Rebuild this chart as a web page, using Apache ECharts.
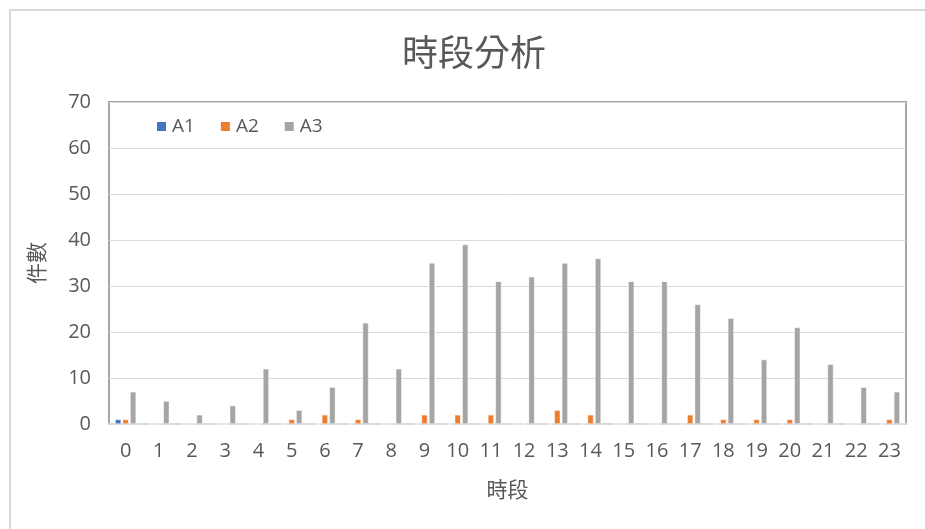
<!DOCTYPE html>
<html><head><meta charset="utf-8">
<script src="https://cdn.jsdelivr.net/npm/echarts@6/dist/echarts.min.js"></script>
<style>html,body{margin:0;padding:0;background:#fff}#c{width:925px;height:529px}</style>
</head><body><div id="c"></div>
<script>
const categories = ['0','1','2','3','4','5','6','7','8','9','10','11','12','13','14','15','16','17','18','19','20','21','22','23'];
const seriesNames = ['A1','A2','A3'];
const a1 = [1,0,0,0,0,0,0,0,0,0,0,0,0,0,0,0,0,0,0,0,0,0,0,0];
const a2 = [1,0,0,0,0,1,2,1,0,2,2,2,0,3,2,0,0,2,1,1,1,0,0,1];
const a3 = [7,5,2,4,12,3,8,22,12,35,39,31,32,35,36,31,31,26,23,14,21,13,8,7];
const yTicks = [0,10,20,30,40,50,60,70];
const colors = ['#4472c4','#ed7d31','#a5a5a5'];

const chart = echarts.init(document.getElementById('c'));
const txt = '#595959';
const cjk = '"Noto Sans CJK TC","Noto Sans CJK SC",sans-serif';
const num = '"Open Sans","Noto Sans",sans-serif';
const mk = (name, data, i) => ({
  name, type: 'bar', data, barWidth: 6, barGap: '25%',
  itemStyle: { color: colors[i], borderColor: '#fff', borderWidth: 0.5 }
});
chart.setOption({
  animation: false,
  title: { text: '時段分析', left: 397, top: 29, itemGap: 0,
    textStyle: { fontFamily: cjk, fontSize: 36, fontWeight: 'normal', color: txt } },
  legend: { data: seriesNames, left: 150, top: 112, itemWidth: 11, itemHeight: 11, itemGap: 24,
    icon: 'rect', textStyle: { fontFamily: num, fontSize: 19, color: txt } },
  grid: { left: 109, right: 19, top: 102, bottom: 105, show: true, borderColor: '#a6a6a6', borderWidth: 2 },
  graphic: [
    { type: 'polyline', shape: { points: [[10, 529], [10, 10], [925, 10]] },
      style: { stroke: '#d9d9d9', lineWidth: 2, fill: null } }
  ],
  xAxis: { type: 'category', data: categories, name: '時段', nameLocation: 'middle', nameGap: 55,
    nameTextStyle: { fontFamily: cjk, fontSize: 21, color: txt },
    axisLine: { lineStyle: { color: '#d9d9d9', width: 2 } }, axisTick: { show: false },
    axisLabel: { fontFamily: num, fontSize: 20, color: txt, margin: 17, interval: 0 } },
  yAxis: { type: 'value', min: yTicks[0], max: yTicks[yTicks.length - 1], interval: 10,
    name: '件數', nameLocation: 'middle', nameGap: 62,
    nameTextStyle: { fontFamily: cjk, fontSize: 21, color: txt },
    axisLine: { show: false }, axisTick: { show: false },
    axisLabel: { fontFamily: num, fontSize: 20, color: txt, margin: 18 },
    splitLine: { lineStyle: { color: '#d9d9d9', width: 1 } } },
  series: [mk('A1', a1, 0), mk('A2', a2, 1), mk('A3', a3, 2)]
});
</script></body></html>
